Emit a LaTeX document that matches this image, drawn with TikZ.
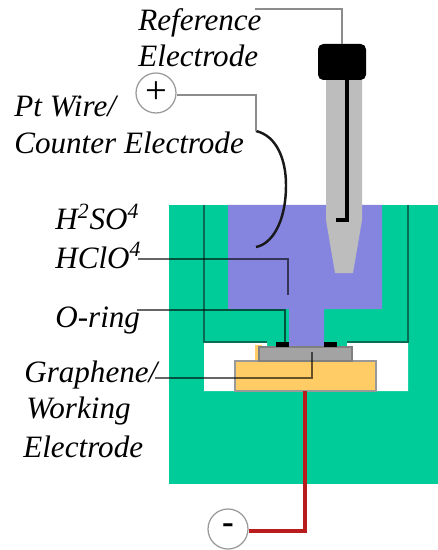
\documentclass[tikz,border=0pt]{standalone}
\usepackage{fontspec}
\setmainfont{Liberation Serif}
\usepackage{xcolor}
\definecolor{cellgreen}{HTML}{00CC99}
\definecolor{darkgreen}{HTML}{0B6B55}
\definecolor{liquid}{HTML}{8585E0}
\definecolor{glass}{HTML}{BDBDBD}
\definecolor{slab}{HTML}{A3A3A3}
\definecolor{gold}{HTML}{FFCC66}
\definecolor{wirered}{HTML}{B81C1C}
\tikzset{
	lab/.style={font=\fontsize{17.7}{20}\selectfont\itshape, anchor=base west, inner sep=0pt, text=black},
	lead/.style={black!45, line width=.9pt},
	leaddark/.style={black, opacity=.6, line width=.9pt},
	term/.style={circle, draw=black!40, fill=white, line width=.7pt, minimum size=.8cm, inner sep=0pt},
}
\begin{document}
\begin{tikzpicture}[x=.02cm, y=-.02cm]
	\useasboundingbox (0,0) rectangle (438,550);
	% cell body
	\fill[cellgreen] (169,205) rectangle (438,484);
	\fill[white] (204,342) -- (267,342) -- (267,347) -- (347,347) -- (347,342) -- (408,342) -- (408,391) -- (204,391) -- cycle;
	\draw[darkgreen, line width=.8pt] (204,205) -- (204,342) -- (267,342);
	\draw[darkgreen, line width=.8pt] (408,205) -- (408,342) -- (347,342);
	% electrolyte
	\fill[liquid] (228,205) -- (382,205) -- (382,309) -- (324,309) -- (324,347) -- (289,347) -- (289,309) -- (228,309) -- cycle;
	% sample stack
	\fill[gold] (255,345) rectangle (262,361);
	\filldraw[fill=gold, draw=black!40, line width=.8pt] (235,361) rectangle (376,391);
	\filldraw[fill=slab, draw=black!50, line width=.8pt] (259,347) rectangle (352,361);
	\fill[black] (276,342) rectangle (289,347);
	\fill[black] (324,342) rectangle (337,347);
	% reference electrode
	\fill[glass] (326,80) -- (362,80) -- (362,220) -- (353,273) -- (335,273) -- (326,220) -- cycle;
	\draw[black, line width=1.8pt] (347,80) -- (347,220) -- (336,220);
	\node[fill=black, rounded corners=3pt, minimum width=.96cm, minimum height=.72cm, inner sep=0pt] (cap) at (342,62) {};
	% counter electrode
	\coordinate (wiretop) at (256,131);
	\coordinate (wireend) at (256,247);
	\draw[black!90, line width=1.4pt] (wiretop) .. controls (277,136) and (286,160) .. (286,185) .. controls (286,222) and (272,244) .. (wireend);
	% labels
	\node[lab] (reflab) at (138,31) {Reference};
	\node[lab] (reflabb) at (138,67) {Electrode};
	\node[lab] (ptlab) at (14,117) {Pt Wire/};
	\node[lab] (ctlab) at (14,154) {Counter Electrode};
	\node[lab] (acida) at (55,230) {H\textsuperscript{2}SO\textsuperscript{4}};
	\node[lab] (acidb) at (55,268) {HClO\textsuperscript{4}};
	\node[lab] (ringlab) at (55,327) {O-ring};
	\node[lab] (grlab) at (24,382) {Graphene/};
	\node[lab] (grlabb) at (26,418) {Working};
	\node[lab] (grlabc) at (23,457) {Electrode};
	\node[term, font=\fontsize{22}{24}\selectfont] (plus) at (156,93) {+};
	\node[term, font=\fontsize{20}{24}\selectfont\bfseries] (minus) at (228,529) {-};
	% leaders
	\coordinate (refstart) at (255,9);
	\coordinate (plusbend) at (256,95);
	\coordinate (acidstart) at (138,259);
	\coordinate (acidtip) at (288,295);
	\coordinate (ringstart) at (137,310);
	\coordinate (ringtip) at (285,343);
	\coordinate (grstart) at (155,378);
	\coordinate (grtip) at (312,352);
	\coordinate (redtop) at (305,391);
	\draw[lead] (refstart) -| (cap.north);
	\draw[lead] (plus.east |- plusbend) -- (plusbend) -- (wiretop);
	\draw[leaddark] (acidstart) -| (acidtip);
	\draw[leaddark] (ringstart) -| (ringtip);
	\draw[leaddark] (grstart) -| (grtip);
	\draw[wirered, line width=2pt] (minus.east |- 0,531) -| (redtop);
\end{tikzpicture}
\end{document}
